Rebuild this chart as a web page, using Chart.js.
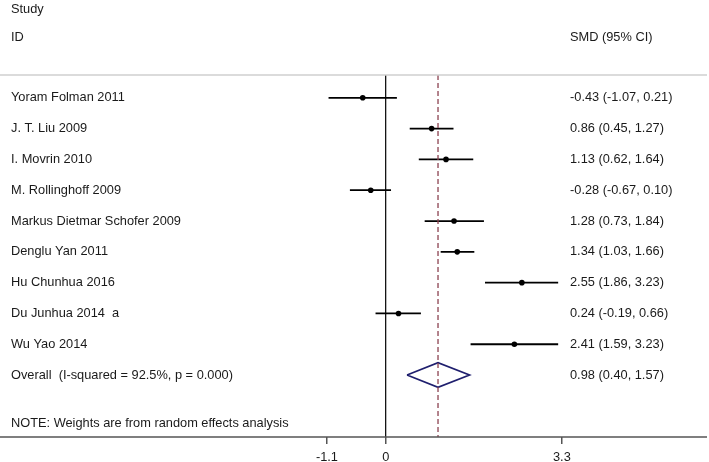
<!DOCTYPE html>
<html>
<head>
<meta charset="utf-8">
<script src="https://cdn.jsdelivr.net/npm/chart.js@4/dist/chart.umd.min.js"></script>
<style>
  html, body { margin: 0; padding: 0; background: #fff; }
  #wrap { width: 709px; height: 462px; }
</style>
</head>
<body>
<div id="wrap"><canvas id="forest"></canvas></div>
<script>
// Study data (SMD, 95% CI)
const studies = ['Yoram Folman 2011', 'J. T. Liu 2009', 'I. Movrin 2010', 'M. Rollinghoff 2009',
  'Markus Dietmar Schofer 2009', 'Denglu Yan 2011', 'Hu Chunhua 2016', 'Du Junhua 2014  a', 'Wu Yao 2014'];
const smd   = [-0.43, 0.86, 1.13, -0.28, 1.28, 1.34, 2.55, 0.24, 2.41];
const lower = [-1.07, 0.45, 0.62, -0.67, 0.73, 1.03, 1.86, -0.19, 1.59];
const upper = [0.21, 1.27, 1.64, 0.10, 1.84, 1.66, 3.23, 0.66, 3.23];

const overallLabel = 'Overall  (I-squared = 92.5%, p = 0.000)';
const overallSmd = 0.98;
const overallLower = 0.40;
const overallUpper = 1.57;

const noteText = 'NOTE: Weights are from random effects analysis';
const xTicks = [-1.1, 0, 3.3];

const fmt = v => v.toFixed(2);
const ciText = (m, l, u) => `${fmt(m)} (${fmt(l)}, ${fmt(u)})`;

// rows: studies 1..9, overall 10
const overallRow = studies.length + 1;
const Y_MIN = 0.26, Y_MAX = 12.01;
const FAMILY = '"Liberation Sans", Arial, sans-serif';
const FONT = '12.8px ' + FAMILY;
const TEXT = '#1a1a1a';

const datasets = [];

// null line
datasets.push({
  data: [{ x: 0, y: Y_MIN }, { x: 0, y: Y_MAX }],
  showLine: true, borderColor: '#000', borderWidth: 1.2, pointRadius: 0
});

// overall estimate (dashed)
datasets.push({
  data: [{ x: overallSmd, y: Y_MIN }, { x: overallSmd, y: Y_MAX }],
  showLine: true, borderColor: '#8c4250', borderWidth: 1.3, borderDash: [5, 3], pointRadius: 0
});

// confidence intervals
studies.forEach((s, i) => {
  datasets.push({
    data: [{ x: lower[i], y: i + 1 }, { x: upper[i], y: i + 1 }],
    showLine: true, borderColor: '#000', borderWidth: 1.8, pointRadius: 0
  });
});

// point estimates
datasets.push({
  data: smd.map((v, i) => ({ x: v, y: i + 1 })),
  pointStyle: 'circle', pointRadius: 2.8, backgroundColor: '#000', borderColor: '#000', borderWidth: 0
});

// overall diamond
const dh = 0.4;
datasets.push({
  data: [
    { x: overallLower, y: overallRow },
    { x: overallSmd, y: overallRow - dh },
    { x: overallUpper, y: overallRow },
    { x: overallSmd, y: overallRow + dh },
    { x: overallLower, y: overallRow }
  ],
  showLine: true, borderColor: '#1f1f6e', borderWidth: 1.7, pointRadius: 0, tension: 0
});

const textPlugin = {
  id: 'forestText',
  afterDraw(chart) {
    const { ctx, chartArea, width } = chart;
    const y = chart.scales.y;
    const leftX = 11, rightX = 570;
    ctx.save();

    // header rule and axis line run the full width
    ctx.strokeStyle = '#cfcfcf';
    ctx.lineWidth = 1.5;
    ctx.beginPath();
    ctx.moveTo(0, chartArea.top);
    ctx.lineTo(width - 2, chartArea.top);
    ctx.stroke();
    ctx.strokeStyle = '#555';
    ctx.beginPath();
    ctx.moveTo(0, chartArea.bottom);
    ctx.lineTo(width - 2, chartArea.bottom);
    ctx.stroke();

    ctx.font = FONT;
    ctx.fillStyle = TEXT;
    ctx.textBaseline = 'middle';
    ctx.textAlign = 'left';

    ctx.fillText('Study', leftX, y.getPixelForValue(-1.88));
    ctx.fillText('ID', leftX, y.getPixelForValue(-0.95));
    ctx.fillText('SMD (95% CI)', rightX, y.getPixelForValue(-0.95));

    studies.forEach((s, i) => {
      const py = y.getPixelForValue(i + 1);
      ctx.fillText(s, leftX, py);
      ctx.fillText(ciText(smd[i], lower[i], upper[i]), rightX, py);
    });
    const po = y.getPixelForValue(overallRow);
    ctx.fillText(overallLabel, leftX, po);
    ctx.fillText(ciText(overallSmd, overallLower, overallUpper), rightX, po);
    ctx.fillText(noteText, leftX, y.getPixelForValue(11.57));
    ctx.restore();
  }
};

new Chart(document.getElementById('forest'), {
  type: 'scatter',
  data: { datasets },
  options: {
    responsive: true,
    maintainAspectRatio: false,
    animation: false,
    layout: { padding: { left: 0, right: 0, top: 75, bottom: 0 } },
    plugins: { legend: { display: false }, tooltip: { enabled: false } },
    scales: {
      x: {
        type: 'linear', min: -7.148, max: 5.98,
        afterBuildTicks: axis => { axis.ticks = xTicks.map(v => ({ value: v })); },
        afterFit: axis => { axis.height = 25; },
        grid: { drawOnChartArea: false, drawTicks: true, tickLength: 7, color: '#555', lineWidth: 1.5 },
        border: { display: false },
        ticks: { font: { family: FAMILY, size: 12.8, lineHeight: 0.4 }, color: TEXT, padding: 10.5,
          maxRotation: 0, autoSkip: false, callback: v => String(v) }
      },
      y: { type: 'linear', reverse: true, min: Y_MIN, max: Y_MAX, display: false }
    }
  },
  plugins: [textPlugin]
});
</script>
</body>
</html>
